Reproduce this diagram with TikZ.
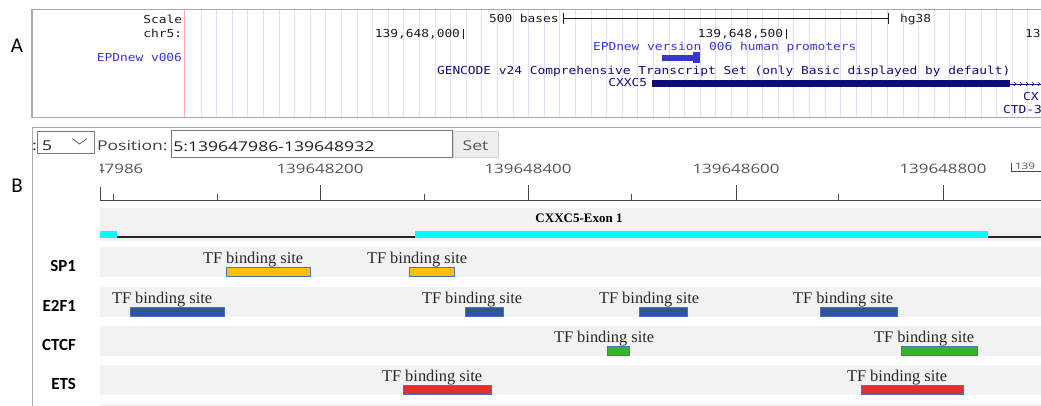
\documentclass[tikz,border=0pt]{standalone}
\usepackage{fontspec}
\setmainfont{Liberation Serif}
\newfontfamily\ucscfont[FakeStretch=1.17]{DejaVu Sans Mono}
\newfontfamily\uifont[FakeStretch=1.3]{Open Sans}
\newfontfamily\calibfont{Carlito}

\definecolor{gridblue}{RGB}{222,222,250}
\definecolor{gridred}{RGB}{255,170,170}
\definecolor{paneledge}{RGB}{168,168,168}
\definecolor{ucscblack}{RGB}{30,30,30}
\definecolor{epdblue}{RGB}{55,55,205}
\definecolor{gencode}{RGB}{14,14,120}
\definecolor{trackgray}{RGB}{242,242,242}
\definecolor{axisgray}{RGB}{70,70,70}
\definecolor{labelgray}{RGB}{85,85,85}
\definecolor{exoncyan}{RGB}{0,255,255}
\definecolor{sitetext}{RGB}{40,40,40}
\definecolor{barline}{RGB}{68,114,196}
\definecolor{sp1fill}{RGB}{255,192,0}
\definecolor{e2f1fill}{RGB}{47,85,151}
\definecolor{ctcffill}{RGB}{50,180,50}
\definecolor{etsfill}{RGB}{228,45,45}
\definecolor{boxedge}{RGB}{120,120,120}
\definecolor{btnedge}{RGB}{210,210,210}
\definecolor{btnfill}{RGB}{238,238,238}

\begin{document}
\begin{tikzpicture}[x=1pt,y=-1pt,
  every node/.style={inner sep=0pt,outer sep=0pt},
  ucsc/.style={font={\ucscfont\fontsize{11}{13}\selectfont},text=ucscblack},
  ui/.style={font={\uifont\fontsize{13.5}{16}\selectfont},text=ucscblack},
  axislab/.style={font={\uifont\fontsize{13}{15}\selectfont},text=labelgray,anchor=base},
  panellab/.style={font={\calibfont\fontsize{21}{24}\selectfont}},
  rowlab/.style={font={\calibfont\bfseries\fontsize{17}{20}\selectfont},anchor=east},
  tfsite/.style={font={\fontsize{16.4}{19}\selectfont},text=sitetext,anchor=base west},
  sitebar/.style={fill=#1,draw=barline,line width=0.9pt},
  axisline/.style={draw=axisgray,line width=1pt}]

\useasboundingbox (0,0) rectangle (1041,405);
\fill[white] (0,0) rectangle (1041,405);

% ---------- Panel A: genome browser view ----------
\foreach \k in {0,...,55}
  \draw[gridblue,line width=1pt] ({201+15.6*\k},10) -- ++(0,107);
\draw[gridred,line width=1pt] (184,10) -- (184,117);
\draw[paneledge,line width=1.3pt] (1060,9.3) -- (32,9.3) -- (32,117.7) -- (1060,117.7);

\node[panellab] (labA) at (17,46) {A};

\node[ucsc,anchor=base east] (scale) at (182,23) {Scale};
\node[ucsc,anchor=base east] (chrom) at (182,37.5) {chr5:};
\node[ucsc,anchor=base east,text=epdblue] (epdlab) at (182,61.5) {EPDnew v006};

\node[ucsc,anchor=base west] (bases) at (489,22) {500 bases};
\coordinate (sbL) at (563,18.5);
\coordinate (sbR) at (888,18.5);
\draw[ucscblack,line width=0.9pt] (sbL) -- (sbR);
\draw[ucscblack,line width=0.9pt] (563,13) -- (563,24) (888,13) -- (888,24);
\node[ucsc,anchor=base west] (hg) at (900,22) {hg38};

\node[ucsc,anchor=base east] (posA) at (460,37.5) {139,648,000};
\draw[ucscblack,line width=0.9pt] (463,29) -- (463,38.5);
\node[ucsc,anchor=base east] (posB) at (783,37.5) {139,648,500};
\draw[ucscblack,line width=0.9pt] (786,29) -- (786,38.5);
\node[ucsc,anchor=base west] (posC) at (1025,37.5) {13};

\node[ucsc,anchor=base west,text=epdblue] (epdtitle) at (593,50) {EPDnew version 006 human promoters};
\fill[epdblue] (662,55) rectangle (700,61);
\fill[epdblue] (693,51.7) rectangle (700,63.3);

\node[ucsc,anchor=base west,text=gencode] (gencodetitle) at (437,74.5)
  {GENCODE v24 Comprehensive Transcript Set (only Basic displayed by default)};
\node[ucsc,anchor=base east,text=gencode] (cxxc) at (647,86.5) {CXXC5};
\fill[gencode] (651.7,80) rectangle (1010,87.3);
\draw[gencode,line width=0.8pt] (1010,84) -- (1050,84);
\foreach \x in {1016,1022,...,1046}
  \draw[gencode,line width=0.6pt] (\x-2,82) -- (\x,84) -- (\x-2,86);
\node[ucsc,anchor=base west,text=gencode] (cxxcb) at (1023,100) {CX};
\node[ucsc,anchor=base west,text=gencode] (ctd) at (1003,113.3) {CTD-3};

% ---------- Panel B: track viewer ----------
\draw[paneledge,line width=1pt] (1060,127.7) -- (32,127.7) -- (32,410);
\node[panellab] (labB) at (17,186) {B};

\node[ui,anchor=base] (colon) at (34.5,150) {:};
\draw[boxedge,line width=0.9pt,fill=white] (37.7,131) rectangle (94.3,153);
\node[ui,anchor=base west] (chrsel) at (42,150) {5};
\draw[labelgray,line width=0.7pt] (72,138.5) -- (79.5,144) -- (87,138.5);
\node[ui,anchor=base west,text=ucscblack!85] (poslab) at (97,150) {Position:};
\draw[boxedge,line width=0.9pt,fill=white] (171,130.5) rectangle (452,157);
\node[ui,anchor=base west] (posval) at (173.3,151) {5:139647986-139648932};
\draw[btnedge,line width=0.8pt,fill=btnfill] (453,131) rectangle (498,157);
\node[ui,anchor=base,text=labelgray] (setbtn) at (475.5,150) {Set};

% ruler
\begin{scope}
  \clip (100,150) rectangle (200,180);
  \node[axislab,anchor=base east] (tick0) at (143.3,173.3) {139647986};
\end{scope}
\node[axislab] (tick1) at (320,173.3) {139648200};
\node[axislab] (tick2) at (528,173.3) {139648400};
\node[axislab] (tick3) at (736,173.3) {139648600};
\node[axislab] (tick4) at (943,173.3) {139648800};
\draw[axisline] (1011,163) -- (1011,171) -- (1045,171);
\node[font={\uifont\fontsize{9}{10}\selectfont},text=labelgray,anchor=base west] (tick5) at (1015,169) {139};

\draw[axisline] (100,187) -- (100,200) -- (1045,200);
\foreach \x in {320,528,736,943}
  \draw[axisline] (\x,185) -- (\x,200);
\foreach \x in {113,217,424,631,838}
  \draw[axisline] (\x,194) -- (\x,200);

% exon track
\fill[trackgray] (100,208) rectangle (1045,241);
\fill[exoncyan] (100,230.5) rectangle (117,238);
\draw[black!85,line width=1.3pt] (117,237) -- (415,237);
\fill[exoncyan] (415,230.5) rectangle (988,238);
\draw[black!85,line width=1.3pt] (988,237) -- (1045,237);
\node[font={\bfseries\fontsize{13}{15}\selectfont},text=black] (exon) at (579,218) {CXXC5-Exon 1};

% transcription factor tracks
\foreach \yb/\lab in {267.7/SP1,307.3/E2F1,346.7/CTCF,385.7/ETS}{
  \fill[trackgray] (100,\yb-20.5) rectangle (1045,\yb+9.5);
  \node[rowlab] (row\lab) at (76,\yb-1.5) {\lab};
}
\fill[trackgray] (100,404) rectangle (1045,420);

\foreach \yb/\tx/\xa/\xb/\col [count=\i] in {
  267.7/203/226/310/sp1fill, 267.7/367/409/454/sp1fill,
  307.3/112/130/224/e2f1fill, 307.3/422/465/503/e2f1fill,
  307.3/599/639/687/e2f1fill, 307.3/793/820/897/e2f1fill,
  346.7/554/607/629/ctcffill, 346.7/874/901/977/ctcffill,
  385.7/382/403/491/etsfill, 385.7/847/861/963/etsfill}{
  \node[tfsite] (site\i) at (\tx,\yb-3.8) {TF binding site};
  \draw[sitebar=\col] (\xa,\yb) rectangle (\xb,\yb+9);
}

\end{tikzpicture}
\end{document}
